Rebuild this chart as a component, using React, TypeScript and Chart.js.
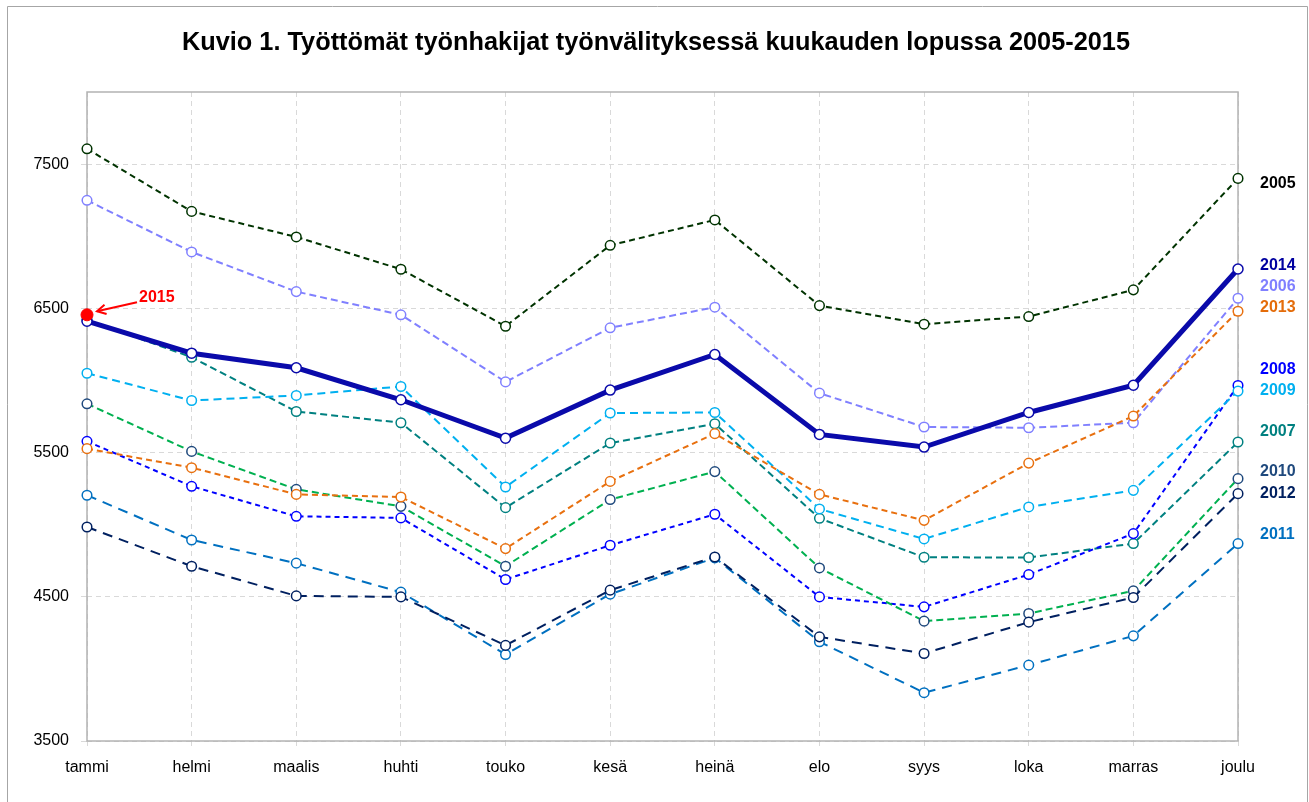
import React, { useEffect, useRef } from "react";
import { Chart, registerables } from "chart.js";

Chart.register(...registerables);

const months = ["tammi", "helmi", "maalis", "huhti", "touko", "kesä", "heinä", "elo", "syys", "loka", "marras", "joulu"];

const y2005 = [7606, 7172, 6995, 6771, 6376, 6937, 7113, 6519, 6390, 6443, 6628, 7401];
const y2006 = [7249, 6891, 6616, 6455, 5990, 6365, 6508, 5912, 5677, 5672, 5707, 6570];
const y2007 = [6420, 6161, 5785, 5707, 5118, 5566, 5700, 5044, 4774, 4772, 4869, 5573];
const y2008 = [5578, 5266, 5058, 5047, 4620, 4857, 5072, 4499, 4430, 4654, 4938, 5965];
const y2009 = [6050, 5861, 5896, 5958, 5261, 5774, 5778, 5109, 4901, 5123, 5238, 5926];
const y2010 = [5838, 5508, 5245, 5127, 4712, 5174, 5368, 4700, 4331, 4384, 4541, 5319];
const y2011 = [5204, 4894, 4733, 4532, 4100, 4518, 4770, 4188, 3835, 4026, 4229, 4869];
const y2012 = [4984, 4712, 4506, 4499, 4163, 4546, 4776, 4222, 4107, 4324, 4495, 5215];
const y2013 = [5527, 5395, 5210, 5192, 4834, 5300, 5631, 5210, 5030, 5427, 5753, 6480];
const y2014 = [6411, 6189, 6088, 5866, 5600, 5933, 6180, 5626, 5538, 5778, 5967, 6773];
const y2015 = [6455, null, null, null, null, null, null, null, null, null, null, null];

const yTicks = [3500, 4500, 5500, 6500, 7500];
const yMin = 3500;
const yMax = 8000;

const titleText = "Kuvio 1. Työttömät työnhakijat työnvälityksessä kuukauden lopussa 2005-2015";

// Right-hand series labels: text, colour, vertical anchor (in data units)
const endLabels = ["2005", "2014", "2006", "2013", "2008", "2009", "2007", "2010", "2012", "2011"];
const endLabelColors = ["#000000", "#0000A0", "#8080FF", "#E46C0A", "#0000FF", "#00B0F0", "#008080", "#1F497D", "#002060", "#0070C0"];
const endLabelValues = [7364, 6796, 6651, 6508, 6078, 5931, 5642, 5365, 5215, 4931];

const FONT = '"Liberation Sans", Arial, sans-serif';

function dashed(label: string, data: (number | null)[], color: string, dash: number[], markerColor?: string) {
  return {
    label,
    data,
    borderColor: color,
    borderWidth: 2,
    borderDash: dash,
    pointRadius: 4.8,
    pointBorderWidth: 1.5,
    pointBorderColor: markerColor || color,
    pointBackgroundColor: "#FFFFFF",
    tension: 0,
    clip: false as const,
  };
}

const framePlugin = {
  id: "frame",
  beforeDraw(chart: any) {
    const { ctx, width, height } = chart;
    ctx.save();
    ctx.fillStyle = "#FFFFFF";
    ctx.fillRect(0, 0, width, height);
    ctx.strokeStyle = "#A6A6A6";
    ctx.lineWidth = 1;
    ctx.beginPath();
    ctx.moveTo(7.5, height);
    ctx.lineTo(7.5, 6.5);
    ctx.lineTo(1307.5, 6.5);
    ctx.lineTo(1307.5, height);
    ctx.stroke();
    ctx.restore();
  },
  beforeDatasetsDraw(chart: any) {
    const { ctx, chartArea } = chart;
    ctx.save();
    ctx.strokeStyle = "#B3B3B3";
    ctx.lineWidth = 1.5;
    ctx.strokeRect(chartArea.left, chartArea.top, chartArea.right - chartArea.left, chartArea.bottom - chartArea.top);
    ctx.restore();
  },
  afterDraw(chart: any) {
    const { ctx, chartArea, scales } = chart;
    const ys = scales.y;
    const xs = scales.x;
    ctx.save();
    // Title (condensed to the reference width)
    ctx.font = `bold 25px ${FONT}`;
    ctx.fillStyle = "#000000";
    ctx.textBaseline = "middle";
    ctx.textAlign = "left";
    const w = ctx.measureText(titleText).width;
    const target = 948;
    ctx.translate(182, 43);
    ctx.scale(target / w, 1);
    ctx.fillText(titleText, 0, 0);
    ctx.restore();

    // End labels
    ctx.save();
    ctx.font = `bold 16px ${FONT}`;
    ctx.textBaseline = "middle";
    ctx.textAlign = "left";
    endLabels.forEach((t, i) => {
      ctx.fillStyle = endLabelColors[i];
      ctx.fillText(t, chartArea.right + 22, ys.getPixelForValue(endLabelValues[i]));
    });

    // 2015 annotation
    const px = xs.getPixelForValue(0);
    const py = ys.getPixelForValue(y2015[0] as number);
    ctx.strokeStyle = "#FF0000";
    ctx.fillStyle = "#FF0000";
    ctx.lineWidth = 2;
    const tipX = px + 10, tipY = py - 3.5;
    const tailX = px + 50, tailY = py - 12.5;
    ctx.beginPath();
    ctx.moveTo(tailX, tailY);
    ctx.lineTo(tipX, tipY);
    ctx.stroke();
    const ang = Math.atan2(tipY - tailY, tipX - tailX);
    const hl = 10;
    ctx.beginPath();
    ctx.moveTo(tipX + hl * Math.cos(ang + Math.PI - 0.5), tipY + hl * Math.sin(ang + Math.PI - 0.5));
    ctx.lineTo(tipX, tipY);
    ctx.lineTo(tipX + hl * Math.cos(ang + Math.PI + 0.5), tipY + hl * Math.sin(ang + Math.PI + 0.5));
    ctx.stroke();
    ctx.font = `bold 16px ${FONT}`;
    ctx.textAlign = "left";
    ctx.textBaseline = "middle";
    ctx.fillText("2015", px + 52, py - 17);
    ctx.restore();
  },
};

export default function App() {
  const ref = useRef<HTMLCanvasElement | null>(null);
  useEffect(() => {
    if (!ref.current) return;
    const chart = new Chart(ref.current, {
      type: "line",
      data: {
        labels: months,
        datasets: [
          {
            label: "2015",
            data: y2015,
            borderColor: "#FF0000",
            backgroundColor: "#FF0000",
            pointRadius: 6,
            pointBorderWidth: 1,
            pointBorderColor: "#FF0000",
            pointBackgroundColor: "#FF0000",
            showLine: false,
            clip: false as const,
          },
          {
            label: "2014",
            data: y2014,
            borderColor: "#0A0AAA",
            borderWidth: 5,
            pointRadius: 5,
            pointBorderWidth: 1.5,
            pointBorderColor: "#0A0AAA",
            pointBackgroundColor: "#FFFFFF",
            tension: 0,
            clip: false as const,
          },
          dashed("2013", y2013, "#E8700F", [6, 4]),
          dashed("2012", y2012, "#002060", [10, 7]),
          dashed("2011", y2011, "#0070C0", [10, 7]),
          dashed("2010", y2010, "#00B050", [7, 4], "#1F497D"),
          dashed("2009", y2009, "#00B0F0", [8, 5]),
          dashed("2008", y2008, "#0000FF", [5, 4]),
          dashed("2007", y2007, "#008080", [7, 4]),
          dashed("2006", y2006, "#8080FF", [7, 4]),
          dashed("2005", y2005, "#003300", [6, 4]),
        ],
      },
      options: {
        responsive: false,
        animation: false,
        events: [],
        layout: { padding: { left: 0, top: 92, right: 71, bottom: 0 } },
        plugins: {
          legend: { display: false },
          title: { display: false },
          tooltip: { enabled: false },
        },
        scales: {
          x: {
            offset: false,
            grid: {
              color: "#D9D9D9",
              lineWidth: 1,
              offset: false,
              drawTicks: true,
              tickLength: 5,
            },
            border: { display: false, dash: [5, 4] },
            ticks: {
              color: "#000000",
              font: { family: FONT, size: 16 },
              padding: 12,
              maxRotation: 0,
              autoSkip: false,
            },
            afterFit(scale: any) {
              scale.height = 61;
            },
          },
          y: {
            min: yMin,
            max: yMax,
            grid: {
              color: "#D9D9D9",
              lineWidth: 1,
              drawTicks: true,
              tickLength: 6,
            },
            border: { display: false, dash: [5, 4] },
            ticks: {
              color: "#000000",
              font: { family: FONT, size: 16 },
              padding: 12,
              callback: (value: any) => String(value),
            },
            afterBuildTicks(scale: any) {
              scale.ticks = yTicks.map((v) => ({ value: v }));
            },
            afterFit(scale: any) {
              scale.width = 87;
            },
          },
        },
      },
      plugins: [framePlugin],
    });
    return () => chart.destroy();
  }, []);

  return (
    <div style={{ position: "absolute", left: 0, top: 0, width: 1309, height: 802, background: "#fff" }}>
      <canvas ref={ref} width={1309} height={802} style={{ width: 1309, height: 802, display: "block" }} />
    </div>
  );
}
